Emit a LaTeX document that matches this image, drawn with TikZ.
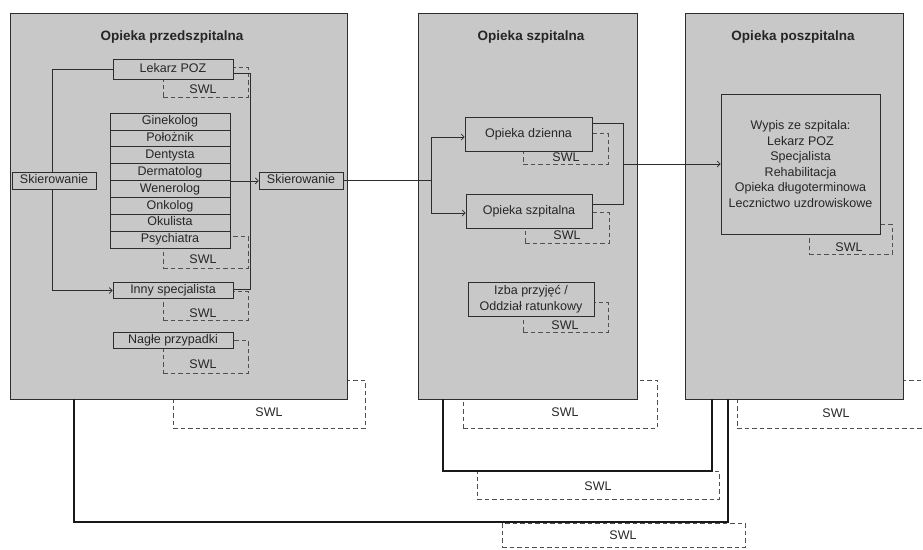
\documentclass[tikz,border=0pt]{standalone}
\usepackage{fontspec}
\setmainfont{Liberation Sans}
\usetikzlibrary{arrows.meta}
\pgfdeclarelayer{lzero}\pgfdeclarelayer{lone}\pgfdeclarelayer{ltwo}
\pgfsetlayers{lzero,lone,ltwo,main}
\definecolor{panelgray}{RGB}{200,200,200}
\definecolor{linegray}{RGB}{45,45,45}
\definecolor{dashgray}{RGB}{80,80,80}
\begin{document}
\begin{tikzpicture}[x=1pt,y=-1pt,
  every node/.style={font=\fontsize{12.5}{15.5}\selectfont, inner sep=0pt, text=black!85},
  panel/.style={draw=linegray, line width=0.8pt, fill=panelgray, minimum width=#1, minimum height=386pt},
  ptitle/.style={font=\bfseries\fontsize{13.5}{16}\selectfont},
  boxst/.style={draw=linegray, line width=0.7pt, fill=panelgray, minimum width=#1, text height=9pt, text depth=2.5pt},
  mbox/.style={draw=linegray, line width=0.7pt, fill=panelgray, align=center, minimum width=#1},
  swlbox/.style={draw=dashgray, line width=0.7pt, dash pattern=on 4.5pt off 3pt, minimum width=#1},
  swltext/.style={},
  conn/.style={draw=linegray, line width=0.7pt},
  arr/.style={draw=linegray, line width=0.7pt, -{Straight Barb[length=3pt,width=6pt]}},
  thickln/.style={draw=black!90, line width=1.9pt}]
\useasboundingbox (0,0) rectangle (923,549);

% bottom SWL rectangles (behind panels)
\begin{pgfonlayer}{lzero}
\node[swlbox=192pt, minimum height=48pt] (s9) at (269,404) {};
\node[swlbox=194pt, minimum height=48pt] (s10) at (560,404) {};
\node[swlbox=203pt, minimum height=48pt] (s11) at (838.5,404) {};
\node[swlbox=242pt, minimum height=28pt] (s12) at (598,485) {};
\node[swlbox=243pt, minimum height=24pt] (s13) at (623.5,535) {};
\end{pgfonlayer}

% panels
\begin{pgfonlayer}{lone}
\node[panel=337pt] (pre) at (178.5,206) {};
\node[panel=219pt] (mid) at (527.5,206) {};
\node[panel=218pt] (post) at (794,206) {};
\end{pgfonlayer}

\node[ptitle] (tpre) at (172,37) {Opieka przedszpitalna};
\node[ptitle] (tmid) at (531,37) {Opieka szpitalna};
\node[ptitle] (tpost) at (793,37) {Opieka poszpitalna};

% inner SWL rectangles
\begin{pgfonlayer}{ltwo}
\node[swlbox=85pt, minimum height=30pt] (s1) at (205.5,82) {};
\node[swlbox=85pt, minimum height=32pt] (s2) at (205.5,252) {};
\node[swlbox=85pt, minimum height=29pt] (s3) at (205.5,305.5) {};
\node[swlbox=85pt, minimum height=33pt] (s4) at (205.5,356.5) {};
\node[swlbox=85pt, minimum height=31pt] (s5) at (565.5,148.5) {};
\node[swlbox=84pt, minimum height=31pt] (s6) at (567,227.5) {};
\node[swlbox=85pt, minimum height=30pt] (s7) at (565.5,317) {};
\node[swlbox=83pt, minimum height=30pt] (s8) at (850.5,239) {};
\end{pgfonlayer}

% boxes of the left panel
\node[boxst=120pt, minimum height=20pt] (lek) at (173,69) {Lekarz POZ};
\foreach \t [count=\i] in {Ginekolog,Położnik,Dentysta,Dermatolog,Wenerolog,Onkolog,Okulista,Psychiatra}
  \node[boxst=120pt, minimum height=16.875pt] (r\i) at (170,{113+16.875*(\i-0.5)}) {\t};
\node[boxst=120pt, minimum height=15.6pt] (inny) at (173,290.5) {Inny specjalista};
\node[boxst=120pt, minimum height=16pt] (nagle) at (173,340) {Nagłe przypadki};
\node[boxst=84pt, minimum height=17pt] (skL) at (54,180.5) {Skierowanie};
\node[boxst=84pt, minimum height=17pt] (skR) at (301,180.5) {Skierowanie};

% boxes of the middle panel
\node[boxst=127pt, minimum height=34pt] (dz) at (528.5,134) {Opieka dzienna};
\node[boxst=126pt, minimum height=34pt] (szp) at (529,211) {Opieka szpitalna};
\node[mbox=126pt, minimum height=34pt] (izba) at (531,299) {Izba przyjęć /\\Oddział ratunkowy};

% box of the right panel
\node[mbox=159pt, minimum height=140pt] (wypis) at (800.5,164) {Wypis ze szpitala:\\Lekarz POZ\\Specjalista\\Rehabilitacja\\Opieka długoterminowa\\Lecznictwo uzdrowiskowe};

% SWL labels
\node[swltext] (t1) at (203,89) {SWL};
\node[swltext] (t2) at (203,259) {SWL};
\node[swltext] (t3) at (203,313) {SWL};
\node[swltext] (t4) at (203,364) {SWL};
\node[swltext] (t5) at (566,157) {SWL};
\node[swltext] (t6) at (567,235) {SWL};
\node[swltext] (t7) at (565,325) {SWL};
\node[swltext] (t8) at (849,247) {SWL};
\node[swltext] (t9) at (269,412) {SWL};
\node[swltext] (t10) at (565,412) {SWL};
\node[swltext] (t11) at (836,413) {SWL};
\node[swltext] (t12) at (598,486) {SWL};
\node[swltext] (t13) at (623,535) {SWL};

% coordinates for connectors
\coordinate (bl) at (52,0);
\coordinate (br) at (250,0);
\coordinate (bm) at (431,0);
\coordinate (bmr) at (623,0);
\coordinate (xa) at (74,0);
\coordinate (xb) at (443,0);
\coordinate (cL) at (728,522);
\coordinate (cM) at (712,471);
\coordinate (lekout) at ([yshift=-4pt]lek.east);
\coordinate (innyout) at ([yshift=1.5pt]inny.east);
\coordinate (dzin) at ([yshift=-3pt]dz.west);
\coordinate (szin) at ([yshift=-2pt]szp.west);
\coordinate (dzout) at ([yshift=11pt]dz.east);
\coordinate (szout) at ([yshift=7pt]szp.east);

\begin{pgfonlayer}{ltwo}
\draw[arr] (lek.west) -- (lek.west -| bl) -- (inny.west -| bl) -- (inny.west);
\draw[conn] (lekout) -- (lekout -| br) -- (innyout -| br) -- (innyout);
\draw[arr] (r4.south east) -- (r4.south east -| skR.west);
\draw[conn] (skR.east) -- (skR.east -| bm);
\draw[conn] (dzin -| bm) -- (szin -| bm);
\draw[arr] (dzin -| bm) -- (dzin);
\draw[arr] (szin -| bm) -- (szin);
\draw[conn] (dzout) -- (dzout -| bmr) -- (szout -| bmr) -- (szout);
\draw[arr] (wypis.west -| bmr) -- (wypis.west);
\end{pgfonlayer}

% thick connectors between panels
\draw[thickln] (pre.south -| xa) |- (cL) -- (post.south -| cL);
\draw[thickln] (mid.south -| xb) |- (cM) -- (post.south -| cM);
\end{tikzpicture}
\end{document}
